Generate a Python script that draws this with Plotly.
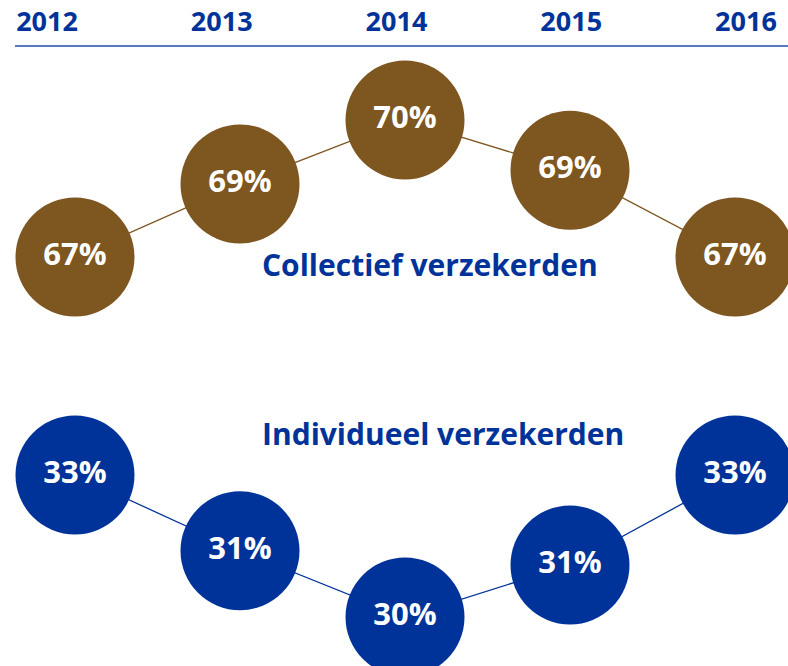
import plotly.graph_objects as go

years = [2012, 2013, 2014, 2015, 2016]
collectief = [67.0, 68.6, 70.0, 68.9, 67.0]
individueel = [33.0, 31.4, 30.0, 31.1, 33.0]
series_names = ["Collectief verzekerden", "Individueel verzekerden"]

BROWN = "#7d5620"
BLUE = "#003399"
FONT = "Open Sans"

def labels(vals):
    return [f"{round(v)}%" for v in vals]

fig = go.Figure()

for vals, color, yax in [(collectief, BROWN, "y"), (individueel, BLUE, "y2")]:
    fig.add_trace(go.Scatter(
        x=years, y=vals, mode="lines+markers+text",
        line=dict(color=color, width=1.3),
        marker=dict(size=119, color=color, line=dict(width=0)),
        text=labels(vals), textposition="middle center",
        textfont=dict(family=FONT, size=31, color="white", weight="bold"),
        cliponaxis=False, xaxis="x", yaxis=yax, hoverinfo="skip", showlegend=False,
    ))
# invisible trace to carry the top year axis
fig.add_trace(go.Scatter(
    x=years, y=[None] * len(years), mode="markers", xaxis="x2", yaxis="y",
    showlegend=False, hoverinfo="skip",
))

L, T = 15, 47
FW, FH = 788, 666
W, H = FW - L, FH - T

def px(xp):
    return (xp - L) / W

def py(yp):
    return 1 - (yp - T) / H

fig.update_layout(
    width=FW, height=FH,
    margin=dict(l=L, r=0, t=T, b=0),
    paper_bgcolor="white", plot_bgcolor="white",
    xaxis=dict(range=[2011.6364, 2016.3212], visible=False, fixedrange=True),
    xaxis2=dict(range=[2011.8169, 2016.2404], overlaying="x", side="top",
                tickmode="array", tickvals=years, ticktext=[str(y) for y in years],
                showline=True, linecolor="#5a78bd", linewidth=2,
                showgrid=False, zeroline=False, ticks="", ticklabelstandoff=3,
                tickfont=dict(family=FONT, size=27, color=BLUE, weight="bold")),
    yaxis=dict(range=[58.044, 71.598], visible=False, domain=[0, 1]),
    yaxis2=dict(range=[28.965, 42.043], visible=False, overlaying="y"),
    annotations=[
        dict(text=series_names[0], x=px(430), xref="paper", y=py(264), yref="paper",
             showarrow=False, font=dict(family=FONT, size=30, color=BLUE, weight="bold")),
        dict(text=series_names[1], x=px(443), xref="paper", y=py(434), yref="paper",
             showarrow=False, font=dict(family=FONT, size=30, color=BLUE, weight="bold")),
    ],
)

fig.write_html(
    "out.html",
    config={"displayModeBar": False, "staticPlot": True},
    post_script="document.documentElement.style.overflow='hidden';"
                "document.body.style.margin='0';document.body.style.overflow='hidden';",
)
